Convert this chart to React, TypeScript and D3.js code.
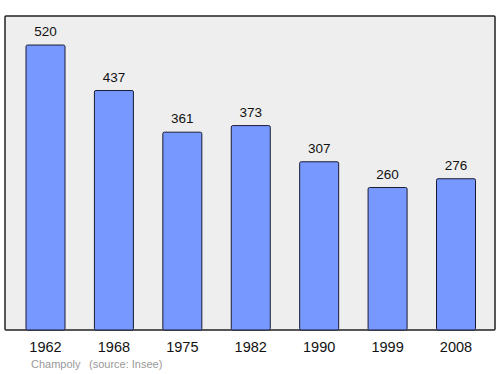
import React from "react";
import * as d3 from "d3";

const years = ["1962", "1968", "1975", "1982", "1990", "1999", "2008"];
const population = [520, 437, 361, 373, 307, 260, 276];
const placeName = "Champoly";
const sourceText = "(source: Insee)";

export default function App() {
  const W = 500, H = 374;
  const frame = { x0: 5, y0: 16, x1: 495, y1: 330 };
  const x = d3.scalePoint<string>().domain(years).range([45.5, 456]);
  const y = d3.scaleLinear().domain([0, 573]).range([frame.y1, frame.y0]);
  const bw = 39;
  const font = "Liberation Sans, Arial, sans-serif";
  return (
    <svg width={W} height={H} style={{ position: "absolute", left: 0, top: 0 }}>
      <rect x={frame.x0} y={frame.y0} width={frame.x1 - frame.x0} height={frame.y1 - frame.y0}
        fill="#eeeeee" stroke="#222" strokeWidth={1.5} rx={1} />
      {years.map((yr, i) => {
        const cx = x(yr)!;
        const top = y(population[i]);
        return (
          <g key={yr}>
            <rect x={cx - bw / 2} y={top} width={bw} height={frame.y1 - top}
              fill="#7799ff" stroke="#1a1a33" strokeWidth={1} rx={1.5} />
            <text x={cx} y={top - 9} textAnchor="middle" fontFamily={font} fontSize={13.5} fill="#111">
              {population[i]}
            </text>
            <text x={cx} y={352} textAnchor="middle" fontFamily={font} fontSize={14.5} fill="#111">
              {yr}
            </text>
          </g>
        );
      })}
      <text x={31} y={368} textAnchor="start" fontFamily={font} fontSize={11} fill="#999">{placeName}</text>
      <text x={89} y={368} textAnchor="start" fontFamily={font} fontSize={11} fill="#999">{sourceText}</text>
    </svg>
  );
}
